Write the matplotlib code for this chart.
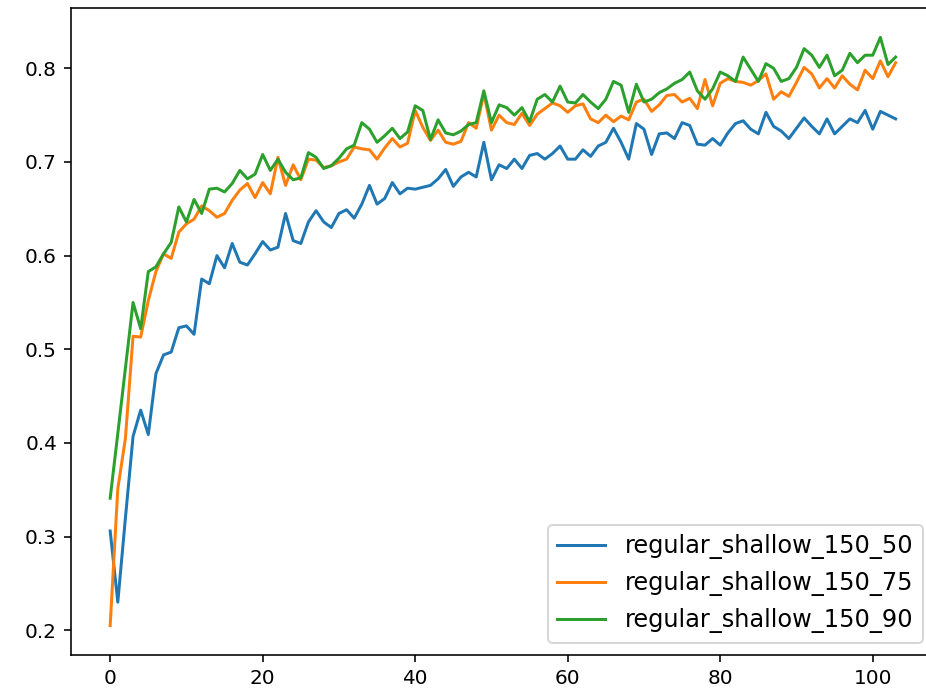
import matplotlib
matplotlib.use("Agg")
from matplotlib import pyplot as plt

# accuracy per epoch
epochs = list(range(104))
acc_50 = [0.306, 0.230, 0.320, 0.407, 0.435, 0.409, 0.474, 0.494, 0.497, 0.523,
          0.525, 0.516, 0.575, 0.570, 0.600, 0.587, 0.613, 0.593, 0.590, 0.602,
          0.615, 0.606, 0.609, 0.645, 0.616, 0.613, 0.636, 0.648, 0.636, 0.630,
          0.645, 0.649, 0.640, 0.655, 0.675, 0.655, 0.661, 0.678, 0.666, 0.672,
          0.671, 0.673, 0.675, 0.682, 0.692, 0.674, 0.684, 0.689, 0.684, 0.721,
          0.681, 0.697, 0.693, 0.703, 0.693, 0.707, 0.709, 0.703, 0.709, 0.717,
          0.703, 0.703, 0.713, 0.706, 0.717, 0.721, 0.736, 0.721, 0.703, 0.741,
          0.735, 0.708, 0.730, 0.731, 0.725, 0.742, 0.739, 0.719, 0.718, 0.725,
          0.718, 0.731, 0.741, 0.744, 0.735, 0.730, 0.753, 0.738, 0.733, 0.725,
          0.736, 0.747, 0.738, 0.730, 0.746, 0.730, 0.738, 0.746, 0.742, 0.755,
          0.735, 0.754, 0.750, 0.746]
acc_75 = [0.205, 0.351, 0.405, 0.514, 0.513, 0.552, 0.583, 0.602, 0.597, 0.625,
          0.634, 0.639, 0.653, 0.648, 0.641, 0.645, 0.659, 0.670, 0.677, 0.662,
          0.678, 0.666, 0.705, 0.675, 0.697, 0.681, 0.703, 0.702, 0.694, 0.696,
          0.700, 0.703, 0.716, 0.714, 0.713, 0.703, 0.715, 0.725, 0.716, 0.720,
          0.755, 0.737, 0.723, 0.734, 0.721, 0.719, 0.722, 0.742, 0.736, 0.773,
          0.734, 0.750, 0.742, 0.740, 0.752, 0.739, 0.751, 0.757, 0.763, 0.760,
          0.753, 0.760, 0.762, 0.746, 0.742, 0.750, 0.743, 0.749, 0.745, 0.764,
          0.767, 0.754, 0.761, 0.771, 0.772, 0.764, 0.768, 0.757, 0.788, 0.760,
          0.784, 0.789, 0.786, 0.785, 0.782, 0.787, 0.794, 0.767, 0.775, 0.770,
          0.785, 0.801, 0.794, 0.779, 0.789, 0.779, 0.792, 0.783, 0.777, 0.798,
          0.789, 0.808, 0.791, 0.806]
acc_90 = [0.341, 0.410, 0.480, 0.550, 0.522, 0.583, 0.588, 0.602, 0.614, 0.652,
          0.636, 0.660, 0.645, 0.671, 0.672, 0.668, 0.677, 0.691, 0.682, 0.687,
          0.708, 0.691, 0.703, 0.689, 0.681, 0.683, 0.710, 0.705, 0.693, 0.696,
          0.704, 0.714, 0.718, 0.742, 0.735, 0.721, 0.728, 0.736, 0.725, 0.732,
          0.760, 0.755, 0.724, 0.745, 0.731, 0.729, 0.733, 0.740, 0.742, 0.776,
          0.742, 0.761, 0.758, 0.750, 0.758, 0.743, 0.767, 0.772, 0.764, 0.781,
          0.764, 0.763, 0.772, 0.764, 0.757, 0.767, 0.786, 0.782, 0.753, 0.783,
          0.764, 0.767, 0.774, 0.778, 0.784, 0.788, 0.796, 0.776, 0.767, 0.778,
          0.796, 0.792, 0.786, 0.812, 0.799, 0.786, 0.805, 0.800, 0.786, 0.789,
          0.801, 0.821, 0.814, 0.801, 0.814, 0.792, 0.798, 0.816, 0.806, 0.814,
          0.814, 0.833, 0.804, 0.812]

fig = plt.figure(figsize=(926 / 144, 691 / 144), dpi=144)
# the reference is cropped: the right spine falls just outside the picture
ax = fig.add_axes([70.9 / 926, 36 / 691, 864 / 926, 647 / 691])

ax.plot(epochs, acc_50, label="regular_shallow_150_50")
ax.plot(epochs, acc_75, label="regular_shallow_150_75")
ax.plot(epochs, acc_90, label="regular_shallow_150_90")

ax.legend(loc="lower right", fontsize=12)

fig.savefig("out.png", dpi=144)
